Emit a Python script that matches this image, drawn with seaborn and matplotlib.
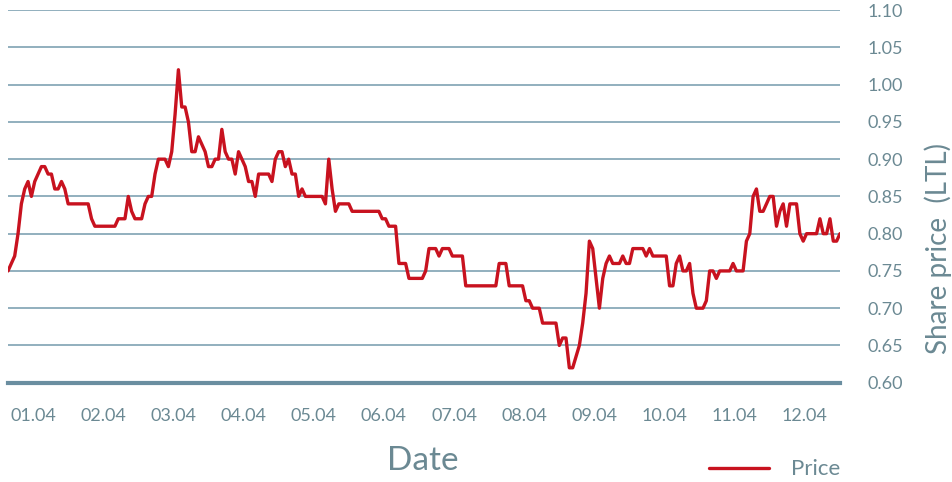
import matplotlib
matplotlib.use("Agg")
import matplotlib.pyplot as plt
import seaborn as sns
import numpy as np

# trading-day index and share price (LTL)
day = [0, 2, 3, 4, 5, 6, 7, 8, 10, 11, 12, 13, 14, 15, 16, 17, 18, 24, 25, 26,
       32, 33, 35, 36, 37, 38, 40, 41, 42, 43, 44, 45, 47, 48, 49, 50, 51, 52,
       53, 54, 55, 56, 57, 58, 59, 60, 61, 62, 63, 64, 65, 66, 67, 68, 69, 70,
       71, 72, 73, 74, 75, 78, 79, 80, 81, 82, 83, 84, 85, 86, 87, 88, 89, 94,
       95, 96, 97, 98, 99, 102, 103, 111, 112, 113, 114, 116, 117, 119, 120,
       124, 125, 126, 128, 129, 130, 132, 133, 136, 137, 146, 147, 149, 150,
       154, 155, 156, 157, 159, 160, 164, 165, 166, 167, 168, 169, 171, 172,
       173, 174, 175, 177, 178, 179, 180, 181, 183, 184, 185, 186, 187, 190,
       191, 192, 193, 197, 198, 199, 200, 201, 202, 203, 204, 205, 206, 208,
       209, 210, 211, 212, 213, 216, 217, 218, 220, 221, 222, 223, 224, 225,
       226, 228, 229, 230, 231, 232, 233, 234, 236, 237, 238, 239, 242, 243,
       244, 245, 246, 247, 248, 249]
price = [0.75, 0.77, 0.80, 0.84, 0.86, 0.87, 0.85, 0.87, 0.89, 0.89, 0.88, 0.88,
         0.86, 0.86, 0.87, 0.86, 0.84, 0.84, 0.82, 0.81, 0.81, 0.82, 0.82, 0.85,
         0.83, 0.82, 0.82, 0.84, 0.85, 0.85, 0.88, 0.90, 0.90, 0.89, 0.91, 0.96,
         1.02, 0.97, 0.97, 0.95, 0.91, 0.91, 0.93, 0.92, 0.91, 0.89, 0.89, 0.90,
         0.90, 0.94, 0.91, 0.90, 0.90, 0.88, 0.91, 0.90, 0.89, 0.87, 0.87, 0.85,
         0.88, 0.88, 0.87, 0.90, 0.91, 0.91, 0.89, 0.90, 0.88, 0.88, 0.85, 0.86,
         0.85, 0.85, 0.84, 0.90, 0.86, 0.83, 0.84, 0.84, 0.83, 0.83, 0.82, 0.82,
         0.81, 0.81, 0.76, 0.76, 0.74, 0.74, 0.75, 0.78, 0.78, 0.77, 0.78, 0.78,
         0.77, 0.77, 0.73, 0.73, 0.76, 0.76, 0.73, 0.73, 0.71, 0.71, 0.70, 0.70,
         0.68, 0.68, 0.65, 0.66, 0.66, 0.62, 0.62, 0.65, 0.68, 0.72, 0.79, 0.78,
         0.70, 0.74, 0.76, 0.77, 0.76, 0.76, 0.77, 0.76, 0.76, 0.78, 0.78, 0.77,
         0.78, 0.77, 0.77, 0.73, 0.73, 0.76, 0.77, 0.75, 0.75, 0.76, 0.72, 0.70,
         0.70, 0.71, 0.75, 0.75, 0.74, 0.75, 0.75, 0.76, 0.75, 0.75, 0.79, 0.80,
         0.85, 0.86, 0.83, 0.83, 0.85, 0.85, 0.81, 0.83, 0.84, 0.81, 0.84, 0.84,
         0.80, 0.79, 0.80, 0.80, 0.82, 0.80, 0.80, 0.82, 0.79, 0.79, 0.80]

month_labels = ["01.04", "02.04", "03.04", "04.04", "05.04", "06.04",
                "07.04", "08.04", "09.04", "10.04", "11.04", "12.04"]
y_ticks = [0.60, 0.65, 0.70, 0.75, 0.80, 0.85, 0.90, 0.95, 1.00, 1.05, 1.10]

sns.set_style("white")
plt.rcParams["font.family"] = ["Lato", "DejaVu Sans"]

text_col = "#6b8993"
grid_col = "#7fa2b3"
red = "#c8121f"

fig = plt.figure(figsize=(9.53, 4.82), dpi=100)
ax = fig.add_axes([0.0084, 0.206, 0.873, 0.773])

sns.lineplot(x=day, y=price, color=red, linewidth=2.4, ax=ax, label="Price")

ax.set_xlim(0, 249)
ax.set_ylim(0.60, 1.10)
ax.set_yticks(y_ticks)
ax.set_yticklabels([f"{t:.2f}" for t in y_ticks])
ax.set_xticks(np.arange(12) * 21 + 7.5)
ax.set_xticklabels(month_labels)

ax.yaxis.tick_right()
ax.tick_params(axis="y", length=0, pad=19.5, labelsize=13, colors=text_col)
ax.tick_params(axis="x", length=0, pad=18, labelsize=13, colors=text_col)

for t in y_ticks[1:]:
    ax.axhline(t, color=grid_col, linewidth=1.2, zorder=0)
for s in ["top", "left", "right"]:
    ax.spines[s].set_visible(False)
ax.spines["bottom"].set_color("#6a8ea0")
ax.spines["bottom"].set_linewidth(3)

ax.set_xlabel("")
ax.set_ylabel("")
fig.text(423 / 953, 1 - 461 / 482, "Date", fontsize=24, color=text_col,
         ha="center", va="center")
fig.text(938 / 953, 1 - 248 / 482, "Share price  (LTL)", fontsize=20,
         color=text_col, rotation=90, ha="center", va="center")

leg = ax.legend(loc="center", bbox_to_anchor=(0.813, 0.026),
                bbox_transform=fig.transFigure, frameon=False,
                handlelength=2.7, handletextpad=1.0, fontsize=16)
for txt in leg.get_texts():
    txt.set_color(text_col)

fig.savefig("out.png", dpi=100)
